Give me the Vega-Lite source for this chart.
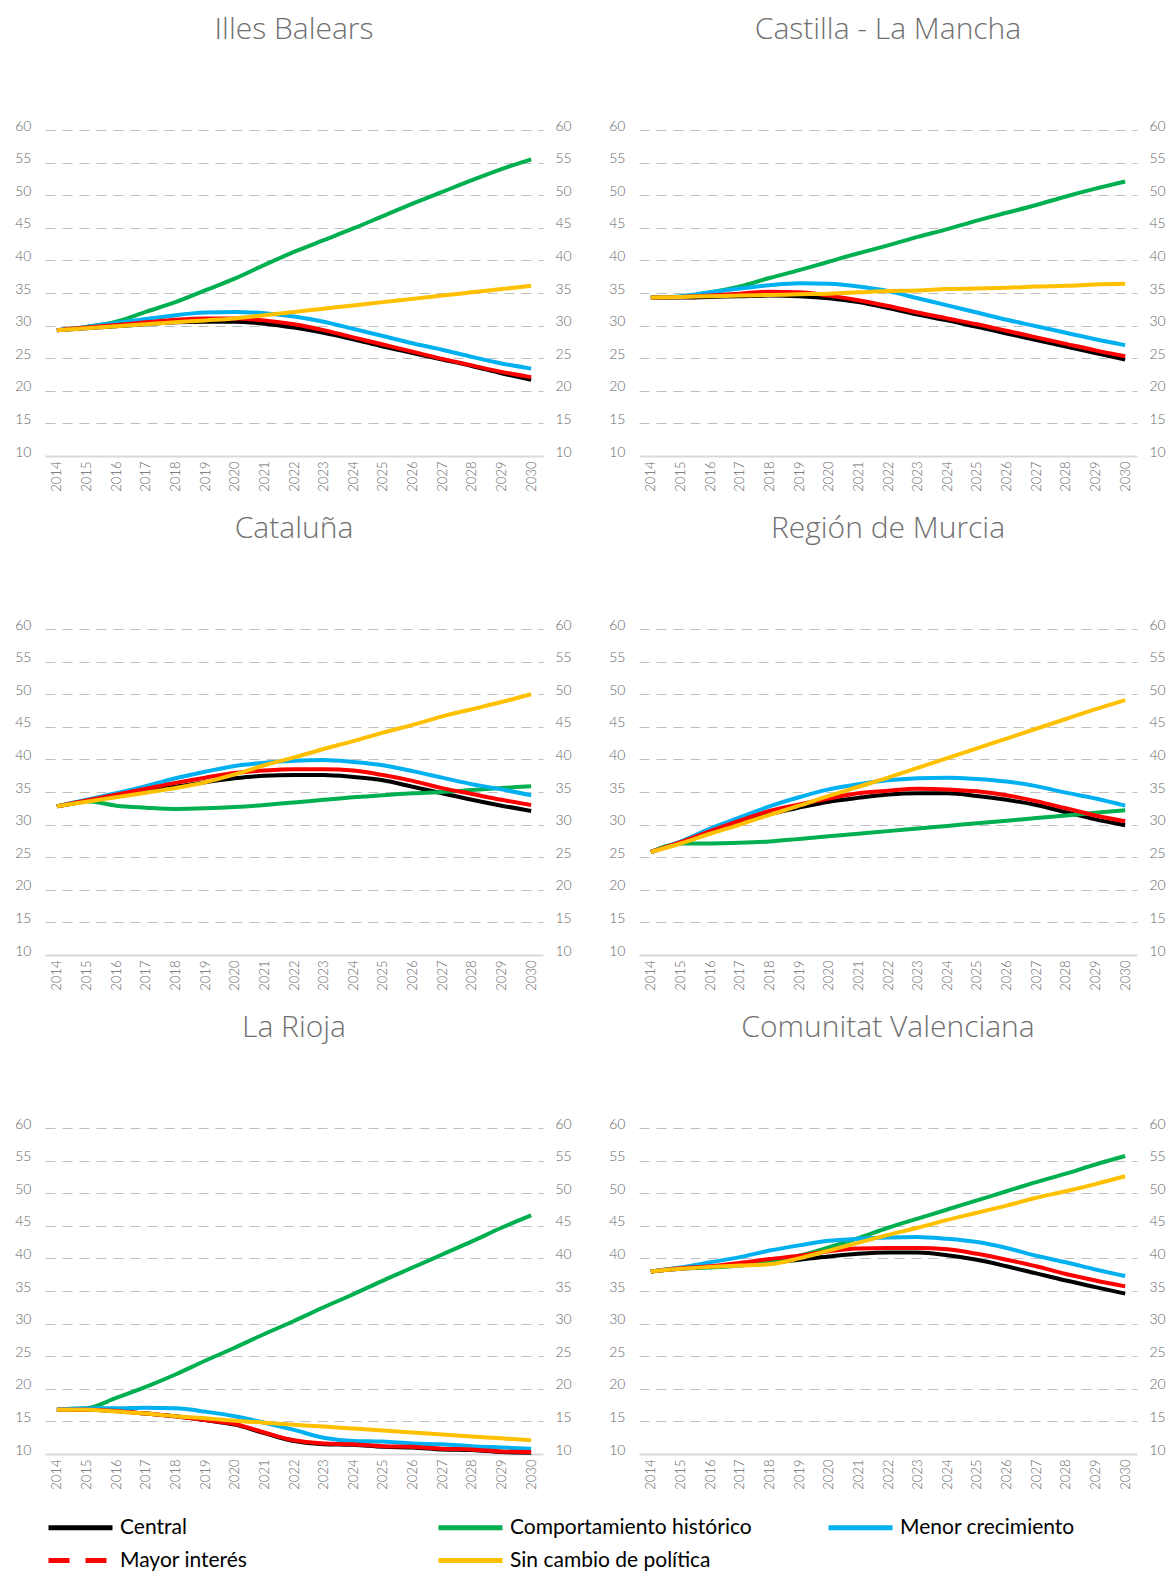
{
"$schema":"https://vega.github.io/schema/vega-lite/v6.json",
"background":"white",
"padding":{"left":14,"top":15,"right":0,"bottom":0},
"config":{"view":{"stroke":null},"font":"Lato"},
"data":{"values":[
{"region":"Illes Balears","año":2014,"Central":29.3,"Comportamiento histórico":29.3,"Menor crecimiento":29.3,"Mayor interés":29.3,"Sin cambio de política":29.3},
{"region":"Illes Balears","año":2015,"Central":29.6,"Comportamiento histórico":29.8,"Menor crecimiento":29.8,"Mayor interés":29.7,"Sin cambio de política":29.6},
{"region":"Illes Balears","año":2016,"Central":29.9,"Comportamiento histórico":30.6,"Menor crecimiento":30.4,"Mayor interés":30.1,"Sin cambio de política":29.9},
{"region":"Illes Balears","año":2017,"Central":30.2,"Comportamiento histórico":32.1,"Menor crecimiento":31.0,"Mayor interés":30.5,"Sin cambio de política":30.2},
{"region":"Illes Balears","año":2018,"Central":30.5,"Comportamiento histórico":33.6,"Menor crecimiento":31.6,"Mayor interés":30.9,"Sin cambio de política":30.5},
{"region":"Illes Balears","año":2019,"Central":30.6,"Comportamiento histórico":35.4,"Menor crecimiento":32.0,"Mayor interés":31.1,"Sin cambio de política":30.8},
{"region":"Illes Balears","año":2020,"Central":30.6,"Comportamiento histórico":37.2,"Menor crecimiento":32.1,"Mayor interés":31.1,"Sin cambio de política":31.1},
{"region":"Illes Balears","año":2021,"Central":30.3,"Comportamiento histórico":39.3,"Menor crecimiento":31.9,"Mayor interés":30.8,"Sin cambio de política":31.6},
{"region":"Illes Balears","año":2022,"Central":29.7,"Comportamiento histórico":41.3,"Menor crecimiento":31.4,"Mayor interés":30.2,"Sin cambio de política":32.1},
{"region":"Illes Balears","año":2023,"Central":28.9,"Comportamiento histórico":43.1,"Menor crecimiento":30.6,"Mayor interés":29.3,"Sin cambio de política":32.6},
{"region":"Illes Balears","año":2024,"Central":27.9,"Comportamiento histórico":44.9,"Menor crecimiento":29.5,"Mayor interés":28.2,"Sin cambio de política":33.1},
{"region":"Illes Balears","año":2025,"Central":26.8,"Comportamiento histórico":46.8,"Menor crecimiento":28.4,"Mayor interés":27.1,"Sin cambio de política":33.6},
{"region":"Illes Balears","año":2026,"Central":25.8,"Comportamiento histórico":48.7,"Menor crecimiento":27.3,"Mayor interés":26.0,"Sin cambio de política":34.1},
{"region":"Illes Balears","año":2027,"Central":24.8,"Comportamiento histórico":50.5,"Menor crecimiento":26.3,"Mayor interés":24.9,"Sin cambio de política":34.6},
{"region":"Illes Balears","año":2028,"Central":23.8,"Comportamiento histórico":52.3,"Menor crecimiento":25.2,"Mayor interés":23.9,"Sin cambio de política":35.1},
{"region":"Illes Balears","año":2029,"Central":22.7,"Comportamiento histórico":54.0,"Menor crecimiento":24.2,"Mayor interés":22.9,"Sin cambio de política":35.6},
{"region":"Illes Balears","año":2030,"Central":21.7,"Comportamiento histórico":55.5,"Menor crecimiento":23.4,"Mayor interés":22.1,"Sin cambio de política":36.1},
{"region":"Castilla - La Mancha","año":2014,"Central":34.3,"Comportamiento histórico":34.3,"Menor crecimiento":34.3,"Mayor interés":34.3,"Sin cambio de política":34.3},
{"region":"Castilla - La Mancha","año":2015,"Central":34.3,"Comportamiento histórico":34.4,"Menor crecimiento":34.5,"Mayor interés":34.4,"Sin cambio de política":34.4},
{"region":"Castilla - La Mancha","año":2016,"Central":34.4,"Comportamiento histórico":35.1,"Menor crecimiento":35.1,"Mayor interés":34.6,"Sin cambio de política":34.5},
{"region":"Castilla - La Mancha","año":2017,"Central":34.5,"Comportamiento histórico":36.0,"Menor crecimiento":35.7,"Mayor interés":34.9,"Sin cambio de política":34.6},
{"region":"Castilla - La Mancha","año":2018,"Central":34.6,"Comportamiento histórico":37.3,"Menor crecimiento":36.2,"Mayor interés":35.2,"Sin cambio de política":34.7},
{"region":"Castilla - La Mancha","año":2019,"Central":34.5,"Comportamiento histórico":38.5,"Menor crecimiento":36.5,"Mayor interés":35.1,"Sin cambio de política":34.8},
{"region":"Castilla - La Mancha","año":2020,"Central":34.2,"Comportamiento histórico":39.8,"Menor crecimiento":36.4,"Mayor interés":34.6,"Sin cambio de política":34.9},
{"region":"Castilla - La Mancha","año":2021,"Central":33.6,"Comportamiento histórico":41.1,"Menor crecimiento":36.0,"Mayor interés":33.9,"Sin cambio de política":35.1},
{"region":"Castilla - La Mancha","año":2022,"Central":32.7,"Comportamiento histórico":42.3,"Menor crecimiento":35.3,"Mayor interés":33.0,"Sin cambio de política":35.3},
{"region":"Castilla - La Mancha","año":2023,"Central":31.7,"Comportamiento histórico":43.6,"Menor crecimiento":34.2,"Mayor interés":32.0,"Sin cambio de política":35.4},
{"region":"Castilla - La Mancha","año":2024,"Central":30.8,"Comportamiento histórico":44.8,"Menor crecimiento":33.1,"Mayor interés":31.1,"Sin cambio de política":35.6},
{"region":"Castilla - La Mancha","año":2025,"Central":29.8,"Comportamiento histórico":46.1,"Menor crecimiento":32.0,"Mayor interés":30.2,"Sin cambio de política":35.7},
{"region":"Castilla - La Mancha","año":2026,"Central":28.8,"Comportamiento histórico":47.3,"Menor crecimiento":30.9,"Mayor interés":29.2,"Sin cambio de política":35.8},
{"region":"Castilla - La Mancha","año":2027,"Central":27.8,"Comportamiento histórico":48.5,"Menor crecimiento":29.9,"Mayor interés":28.2,"Sin cambio de política":36.0},
{"region":"Castilla - La Mancha","año":2028,"Central":26.8,"Comportamiento histórico":49.8,"Menor crecimiento":28.9,"Mayor interés":27.2,"Sin cambio de política":36.1},
{"region":"Castilla - La Mancha","año":2029,"Central":25.8,"Comportamiento histórico":51.0,"Menor crecimiento":27.9,"Mayor interés":26.2,"Sin cambio de política":36.3},
{"region":"Castilla - La Mancha","año":2030,"Central":24.8,"Comportamiento histórico":52.1,"Menor crecimiento":27.0,"Mayor interés":25.3,"Sin cambio de política":36.4},
{"region":"Cataluña","año":2014,"Central":32.8,"Comportamiento histórico":32.8,"Menor crecimiento":32.8,"Mayor interés":32.8,"Sin cambio de política":32.8},
{"region":"Cataluña","año":2015,"Central":33.6,"Comportamiento histórico":33.6,"Menor crecimiento":33.8,"Mayor interés":33.7,"Sin cambio de política":33.5},
{"region":"Cataluña","año":2016,"Central":34.4,"Comportamiento histórico":32.9,"Menor crecimiento":34.8,"Mayor interés":34.6,"Sin cambio de política":34.2},
{"region":"Cataluña","año":2017,"Central":35.2,"Comportamiento histórico":32.6,"Menor crecimiento":35.9,"Mayor interés":35.5,"Sin cambio de política":34.9},
{"region":"Cataluña","año":2018,"Central":35.8,"Comportamiento histórico":32.4,"Menor crecimiento":37.1,"Mayor interés":36.4,"Sin cambio de política":35.6},
{"region":"Cataluña","año":2019,"Central":36.5,"Comportamiento histórico":32.5,"Menor crecimiento":38.1,"Mayor interés":37.2,"Sin cambio de política":36.5},
{"region":"Cataluña","año":2020,"Central":37.1,"Comportamiento histórico":32.7,"Menor crecimiento":39.0,"Mayor interés":37.9,"Sin cambio de política":37.7},
{"region":"Cataluña","año":2021,"Central":37.5,"Comportamiento histórico":33.0,"Menor crecimiento":39.5,"Mayor interés":38.3,"Sin cambio de política":39.1},
{"region":"Cataluña","año":2022,"Central":37.6,"Comportamiento histórico":33.4,"Menor crecimiento":39.8,"Mayor interés":38.5,"Sin cambio de política":40.3},
{"region":"Cataluña","año":2023,"Central":37.6,"Comportamiento histórico":33.8,"Menor crecimiento":39.9,"Mayor interés":38.5,"Sin cambio de política":41.6},
{"region":"Cataluña","año":2024,"Central":37.3,"Comportamiento histórico":34.2,"Menor crecimiento":39.6,"Mayor interés":38.3,"Sin cambio de política":42.8},
{"region":"Cataluña","año":2025,"Central":36.8,"Comportamiento histórico":34.5,"Menor crecimiento":39.1,"Mayor interés":37.6,"Sin cambio de política":44.1},
{"region":"Cataluña","año":2026,"Central":35.8,"Comportamiento histórico":34.8,"Menor crecimiento":38.2,"Mayor interés":36.7,"Sin cambio de política":45.3},
{"region":"Cataluña","año":2027,"Central":34.8,"Comportamiento histórico":35.0,"Menor crecimiento":37.2,"Mayor interés":35.6,"Sin cambio de política":46.6},
{"region":"Cataluña","año":2028,"Central":33.8,"Comportamiento histórico":35.3,"Menor crecimiento":36.2,"Mayor interés":34.7,"Sin cambio de política":47.7},
{"region":"Cataluña","año":2029,"Central":32.9,"Comportamiento histórico":35.6,"Menor crecimiento":35.4,"Mayor interés":33.8,"Sin cambio de política":48.8},
{"region":"Cataluña","año":2030,"Central":32.1,"Comportamiento histórico":35.9,"Menor crecimiento":34.5,"Mayor interés":33.0,"Sin cambio de política":50.0},
{"region":"Región de Murcia","año":2014,"Central":25.8,"Comportamiento histórico":25.8,"Menor crecimiento":25.8,"Mayor interés":25.8,"Sin cambio de política":25.8},
{"region":"Región de Murcia","año":2015,"Central":27.3,"Comportamiento histórico":27.1,"Menor crecimiento":27.4,"Mayor interés":27.3,"Sin cambio de política":27.1},
{"region":"Región de Murcia","año":2016,"Central":28.8,"Comportamiento histórico":27.1,"Menor crecimiento":29.4,"Mayor interés":29.0,"Sin cambio de política":28.6},
{"region":"Región de Murcia","año":2017,"Central":30.3,"Comportamiento histórico":27.2,"Menor crecimiento":31.1,"Mayor interés":30.6,"Sin cambio de política":30.0},
{"region":"Región de Murcia","año":2018,"Central":31.6,"Comportamiento histórico":27.4,"Menor crecimiento":32.8,"Mayor interés":32.1,"Sin cambio de política":31.5},
{"region":"Región de Murcia","año":2019,"Central":32.6,"Comportamiento histórico":27.8,"Menor crecimiento":34.2,"Mayor interés":33.1,"Sin cambio de política":32.9},
{"region":"Región de Murcia","año":2020,"Central":33.5,"Comportamiento histórico":28.2,"Menor crecimiento":35.4,"Mayor interés":34.0,"Sin cambio de política":34.4},
{"region":"Región de Murcia","año":2021,"Central":34.1,"Comportamiento histórico":28.6,"Menor crecimiento":36.2,"Mayor interés":34.8,"Sin cambio de política":35.8},
{"region":"Región de Murcia","año":2022,"Central":34.6,"Comportamiento histórico":29.0,"Menor crecimiento":36.8,"Mayor interés":35.2,"Sin cambio de política":37.2},
{"region":"Región de Murcia","año":2023,"Central":34.8,"Comportamiento histórico":29.4,"Menor crecimiento":37.1,"Mayor interés":35.5,"Sin cambio de política":38.7},
{"region":"Región de Murcia","año":2024,"Central":34.8,"Comportamiento histórico":29.8,"Menor crecimiento":37.2,"Mayor interés":35.4,"Sin cambio de política":40.2},
{"region":"Región de Murcia","año":2025,"Central":34.4,"Comportamiento histórico":30.2,"Menor crecimiento":37.0,"Mayor interés":35.1,"Sin cambio de política":41.7},
{"region":"Región de Murcia","año":2026,"Central":33.8,"Comportamiento histórico":30.6,"Menor crecimiento":36.6,"Mayor interés":34.5,"Sin cambio de política":43.2},
{"region":"Región de Murcia","año":2027,"Central":33.0,"Comportamiento histórico":31.0,"Menor crecimiento":35.9,"Mayor interés":33.6,"Sin cambio de política":44.7},
{"region":"Región de Murcia","año":2028,"Central":31.9,"Comportamiento histórico":31.4,"Menor crecimiento":34.9,"Mayor interés":32.5,"Sin cambio de política":46.2},
{"region":"Región de Murcia","año":2029,"Central":30.8,"Comportamiento histórico":31.8,"Menor crecimiento":34.0,"Mayor interés":31.4,"Sin cambio de política":47.7},
{"region":"Región de Murcia","año":2030,"Central":29.9,"Comportamiento histórico":32.2,"Menor crecimiento":32.9,"Mayor interés":30.5,"Sin cambio de política":49.1},
{"region":"La Rioja","año":2014,"Central":16.8,"Comportamiento histórico":16.8,"Menor crecimiento":16.8,"Mayor interés":16.8,"Sin cambio de política":16.8},
{"region":"La Rioja","año":2015,"Central":16.8,"Comportamiento histórico":17.0,"Menor crecimiento":17.0,"Mayor interés":16.8,"Sin cambio de política":16.8},
{"region":"La Rioja","año":2016,"Central":16.6,"Comportamiento histórico":18.6,"Menor crecimiento":17.0,"Mayor interés":16.6,"Sin cambio de política":16.5},
{"region":"La Rioja","año":2017,"Central":16.2,"Comportamiento histórico":20.3,"Menor crecimiento":17.1,"Mayor interés":16.2,"Sin cambio de política":16.2},
{"region":"La Rioja","año":2018,"Central":15.8,"Comportamiento histórico":22.2,"Menor crecimiento":17.0,"Mayor interés":15.8,"Sin cambio de política":15.8},
{"region":"La Rioja","año":2019,"Central":15.2,"Comportamiento histórico":24.3,"Menor crecimiento":16.5,"Mayor interés":15.2,"Sin cambio de política":15.5},
{"region":"La Rioja","año":2020,"Central":14.5,"Comportamiento histórico":26.3,"Menor crecimiento":15.8,"Mayor interés":14.6,"Sin cambio de política":15.1},
{"region":"La Rioja","año":2021,"Central":13.2,"Comportamiento histórico":28.4,"Menor crecimiento":14.8,"Mayor interés":13.3,"Sin cambio de política":14.8},
{"region":"La Rioja","año":2022,"Central":12.0,"Comportamiento histórico":30.4,"Menor crecimiento":13.7,"Mayor interés":12.1,"Sin cambio de política":14.5},
{"region":"La Rioja","año":2023,"Central":11.5,"Comportamiento histórico":32.5,"Menor crecimiento":12.5,"Mayor interés":11.6,"Sin cambio de política":14.2},
{"region":"La Rioja","año":2024,"Central":11.4,"Comportamiento histórico":34.5,"Menor crecimiento":12.0,"Mayor interés":11.5,"Sin cambio de política":13.9},
{"region":"La Rioja","año":2025,"Central":11.1,"Comportamiento histórico":36.6,"Menor crecimiento":11.9,"Mayor interés":11.2,"Sin cambio de política":13.6},
{"region":"La Rioja","año":2026,"Central":11.0,"Comportamiento histórico":38.6,"Menor crecimiento":11.6,"Mayor interés":11.1,"Sin cambio de política":13.3},
{"region":"La Rioja","año":2027,"Central":10.7,"Comportamiento histórico":40.6,"Menor crecimiento":11.5,"Mayor interés":10.8,"Sin cambio de política":13.0},
{"region":"La Rioja","año":2028,"Central":10.6,"Comportamiento histórico":42.6,"Menor crecimiento":11.2,"Mayor interés":10.7,"Sin cambio de política":12.7},
{"region":"La Rioja","año":2029,"Central":10.3,"Comportamiento histórico":44.7,"Menor crecimiento":11.0,"Mayor interés":10.4,"Sin cambio de política":12.4},
{"region":"La Rioja","año":2030,"Central":10.2,"Comportamiento histórico":46.6,"Menor crecimiento":10.8,"Mayor interés":10.3,"Sin cambio de política":12.1},
{"region":"Comunitat Valenciana","año":2014,"Central":38.0,"Comportamiento histórico":38.0,"Menor crecimiento":38.0,"Mayor interés":38.0,"Sin cambio de política":38.0},
{"region":"Comunitat Valenciana","año":2015,"Central":38.4,"Comportamiento histórico":38.5,"Menor crecimiento":38.6,"Mayor interés":38.5,"Sin cambio de política":38.4},
{"region":"Comunitat Valenciana","año":2016,"Central":38.7,"Comportamiento histórico":38.6,"Menor crecimiento":39.4,"Mayor interés":38.8,"Sin cambio de política":38.7},
{"region":"Comunitat Valenciana","año":2017,"Central":39.0,"Comportamiento histórico":38.9,"Menor crecimiento":40.2,"Mayor interés":39.3,"Sin cambio de política":38.9},
{"region":"Comunitat Valenciana","año":2018,"Central":39.3,"Comportamiento histórico":39.4,"Menor crecimiento":41.2,"Mayor interés":39.9,"Sin cambio de política":39.1},
{"region":"Comunitat Valenciana","año":2019,"Central":39.8,"Comportamiento histórico":40.4,"Menor crecimiento":42.0,"Mayor interés":40.4,"Sin cambio de política":40.0},
{"region":"Comunitat Valenciana","año":2020,"Central":40.3,"Comportamiento histórico":41.7,"Menor crecimiento":42.7,"Mayor interés":41.1,"Sin cambio de política":41.2},
{"region":"Comunitat Valenciana","año":2021,"Central":40.7,"Comportamiento histórico":43.1,"Menor crecimiento":43.0,"Mayor interés":41.5,"Sin cambio de política":42.4},
{"region":"Comunitat Valenciana","año":2022,"Central":40.9,"Comportamiento histórico":44.7,"Menor crecimiento":43.2,"Mayor interés":41.6,"Sin cambio de política":43.6},
{"region":"Comunitat Valenciana","año":2023,"Central":40.9,"Comportamiento histórico":46.1,"Menor crecimiento":43.3,"Mayor interés":41.6,"Sin cambio de política":44.7},
{"region":"Comunitat Valenciana","año":2024,"Central":40.5,"Comportamiento histórico":47.5,"Menor crecimiento":43.0,"Mayor interés":41.4,"Sin cambio de política":45.9},
{"region":"Comunitat Valenciana","año":2025,"Central":39.8,"Comportamiento histórico":48.9,"Menor crecimiento":42.5,"Mayor interés":40.7,"Sin cambio de política":47.0},
{"region":"Comunitat Valenciana","año":2026,"Central":38.8,"Comportamiento histórico":50.3,"Menor crecimiento":41.6,"Mayor interés":39.8,"Sin cambio de política":48.1},
{"region":"Comunitat Valenciana","año":2027,"Central":37.7,"Comportamiento histórico":51.7,"Menor crecimiento":40.4,"Mayor interés":38.8,"Sin cambio de política":49.3},
{"region":"Comunitat Valenciana","año":2028,"Central":36.6,"Comportamiento histórico":53.0,"Menor crecimiento":39.4,"Mayor interés":37.6,"Sin cambio de política":50.3},
{"region":"Comunitat Valenciana","año":2029,"Central":35.6,"Comportamiento histórico":54.4,"Menor crecimiento":38.3,"Mayor interés":36.6,"Sin cambio de política":51.4},
{"region":"Comunitat Valenciana","año":2030,"Central":34.6,"Comportamiento histórico":55.7,"Menor crecimiento":37.3,"Mayor interés":35.7,"Sin cambio de política":52.6}
]},
"transform":[{"fold":["Central","Comportamiento histórico","Menor crecimiento","Mayor interés","Sin cambio de política"],"as":["serie","valor"]}],
"facet":{"field":"region","type":"nominal","title":null,
  "sort":["Illes Balears","Castilla - La Mancha","Cataluña","Región de Murcia","La Rioja","Comunitat Valenciana"],
  "header":{"title":null,"labelFont":"Open Sans","labelFontWeight":300,"labelFontSize":30,"labelColor":"#707070","labelPadding":50,"labelBaseline":"alphabetic"}},
"columns":2,
"spacing":{"row":22,"column":36},
"resolve":{"scale":{"x":"independent","y":"independent"}},
"spec":{
  "width":498,"height":326,
  "layer":[
    {"mark":{"type":"line","interpolate":"monotone","strokeWidth":4},
     "encoding":{
       "x":{"field":"año","type":"ordinal","scale":{"type":"point","padding":0.4},
            "axis":{"title":null,"labelAngle":-90,"labelAlign":"right","labelBaseline":"middle","ticks":false,"domain":true,"domainColor":"#d9d9d9","domainWidth":2,"labelPadding":5,"labelFont":"Lato","labelFontWeight":300,"labelFontSize":13,"labelColor":"#666666","grid":false}},
       "y":{"field":"valor","type":"quantitative","scale":{"domain":[10,60],"nice":false,"zero":false},
            "axis":{"title":null,"orient":"left","values":[10,15,20,25,30,35,40,45,50,55,60],"ticks":false,"domain":false,"grid":true,"gridColor":"#bfbfbf","gridDash":[10,7],"gridWidth":1,
                    "gridOpacity":{"condition":{"test":"datum.value <= 10","value":0},"value":1},
                    "labelFont":"Lato","labelFontWeight":300,"labelFontSize":14,"labelColor":"#666666","labelPadding":14,"labelBaseline":"alphabetic"}},
       "color":{"field":"serie","type":"nominal",
            "scale":{"domain":["Central","Comportamiento histórico","Menor crecimiento","Mayor interés","Sin cambio de política"],"range":["#000000","#00b050","#00b0f0","#ff0000","#ffc000"]},
            "legend":{"title":null,"orient":"bottom","offset":2,"direction":"horizontal","columns":3,"gridAlign":"all","columnPadding":66,"rowPadding":-2,"padding":13,
                      "symbolType":"M-1.6,0H1.6","symbolSize":1600,"symbolStrokeWidth":5,"symbolFillColor":"transparent","labelFont":"Lato","labelFontSize":21,"labelColor":"#000000","labelOffset":17,"labelLimit":400,
                      "encode":{"symbols":{"update":{"strokeDash":{"signal":"datum.value === 'Mayor interés' ? [21,16] : [1,0]"}}}}}}
     }},
    {"mark":{"type":"line","opacity":0},
     "encoding":{
       "x":{"field":"año","type":"ordinal"},
       "y":{"field":"valor","type":"quantitative",
            "axis":{"title":null,"orient":"right","values":[10,15,20,25,30,35,40,45,50,55,60],"ticks":false,"domain":false,"grid":false,
                    "labelFont":"Lato","labelFontWeight":300,"labelFontSize":14,"labelColor":"#666666","labelPadding":12,"labelBaseline":"alphabetic"}},
       "detail":{"field":"serie"}
     }}
  ],
  "resolve":{"axis":{"y":"independent"}}
}
}
